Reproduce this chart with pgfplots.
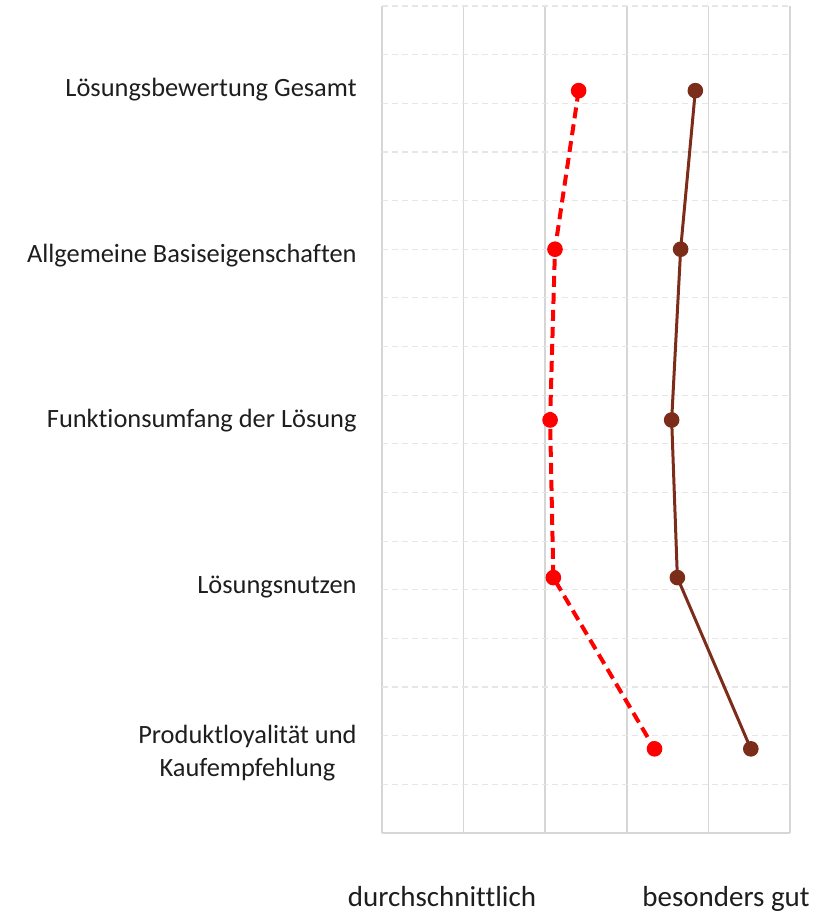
\documentclass[border=0pt]{standalone}
\usepackage{pgfplots}
\pgfplotsset{compat=1.18}
\usepackage{fontspec}
\setmainfont{Carlito}[Ligatures=NoCommon]
\definecolor{vgrid}{RGB}{214,214,214}
\definecolor{hgrid}{RGB}{230,230,230}
\definecolor{redS}{RGB}{255,0,0}
\definecolor{brownS}{RGB}{124,45,26}
\definecolor{txt}{RGB}{30,30,30}
\begin{document}
\begin{tikzpicture}
\path[use as bounding box] (0,0) rectangle (413.5pt,456pt);
\begin{axis}[
  at={(191pt,39.5pt)}, anchor=south west,
  scale only axis, width=204pt, height=413.5pt,
  xmin=0, xmax=5, ymin=0, ymax=17,
  xtick={0,...,5}, xticklabel=\empty, xmajorgrids,
  ytick={1,...,17}, yticklabels={}, ymajorgrids,
  major tick length=0pt,
  x grid style={vgrid, line width=0.8pt},
  y grid style={hgrid, line width=0.6pt, dash pattern=on 3pt off 2pt},
  axis line style={draw=none},
  extra y ticks={1.66,5.08,8.49,11.88,15.31},
  extra y tick labels={{Produktloyalität und\\Kaufempfehlung},Lösungsnutzen,{Funktionsumfang der Lösung},{Allgemeine Basiseigenschaften},{Lösungsbewertung Gesamt}},
  extra y tick style={grid=none, major tick length=0pt},
  yticklabel style={align=center, text=txt, font=\fontsize{13.2}{16.5}\selectfont, inner sep=0pt, xshift=-12.5pt, yshift=-0.5pt},
  clip=false,
]
\draw[vgrid, line width=1pt] (axis cs:0,0) -- (axis cs:5,0);
\addplot[redS, line width=2pt, dash pattern=on 5.5pt off 3pt, mark=*, mark size=3.6pt, mark options={solid, line width=0.6pt, fill=redS}]
  coordinates {(2.41,15.26)(2.12,12.0)(2.06,8.49)(2.10,5.25)(3.34,1.73)};
\addplot[brownS, line width=1.5pt, mark=*, mark size=3.6pt, mark options={solid, line width=0.6pt, fill=brownS}]
  coordinates {(3.84,15.26)(3.66,12.0)(3.55,8.49)(3.62,5.25)(4.52,1.73)};
\end{axis}
\node[anchor=base, text=txt, font=\fontsize{14.5}{17}\selectfont, inner sep=0pt] at (221pt,2.5pt) {durchschnittlich};
\node[anchor=base, text=txt, font=\fontsize{14.5}{17}\selectfont, inner sep=0pt] at (363pt,2.5pt) {besonders gut};
\end{tikzpicture}
\end{document}
